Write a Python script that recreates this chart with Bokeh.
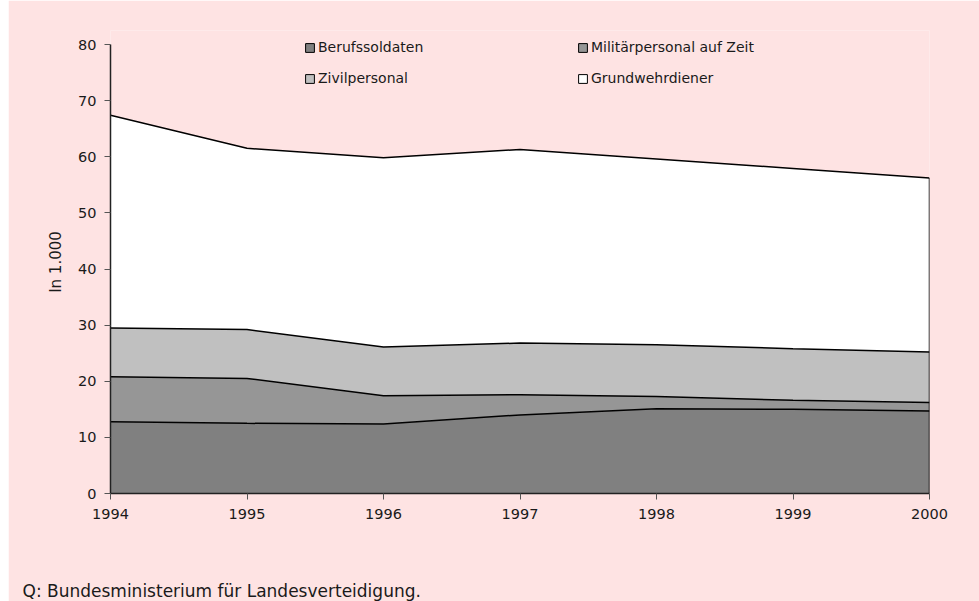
import numpy as np
from bokeh.plotting import figure
from bokeh.models import Legend, LegendItem, Title, FixedTicker, Range1d
from bokeh.embed import file_html
from bokeh.resources import INLINE

years = [1994, 1995, 1996, 1997, 1998, 1999, 2000]
berufssoldaten = [12.8, 12.5, 12.4, 14.0, 15.1, 15.0, 14.7]
militaer_auf_zeit = [8.0, 8.0, 5.0, 3.6, 2.2, 1.6, 1.5]
zivilpersonal = [8.7, 8.7, 8.7, 9.2, 9.2, 9.2, 9.0]
grundwehrdiener = [37.9, 32.3, 33.7, 34.5, 33.1, 32.1, 31.0]
series_names = ["Berufssoldaten", "Militärpersonal auf Zeit", "Zivilpersonal", "Grundwehrdiener"]
colors = ["#808080", "#969696", "#C0C0C0", "#FFFFFF"]
y_ticks = [0, 10, 20, 30, 40, 50, 60, 70, 80]
source_note = "Q: Bundesministerium für Landesverteidigung."

FONT = "DejaVu Sans"
BG = "#FEE3E3"
TXT = "#1a1a1a"

# frame extends 14px above the 80 tick so the legend is not clipped
Y_MAX_AXIS = 80
Y_MAX_FRAME = 80 + 14 / 449 * 80

p = figure(width=971, height=601, output_backend="svg", toolbar_location=None,
           x_range=Range1d(1994, 2000), y_range=Range1d(0, Y_MAX_FRAME),
           min_border_left=102, min_border_right=50, min_border_top=30, min_border_bottom=108)
p.margin = (0, 0, 0, 8)
p.background_fill_color = BG
p.border_fill_color = BG
p.outline_line_color = None
p.grid.visible = False

data = [berufssoldaten, militaer_auf_zeit, zivilpersonal, grundwehrdiener]
cum = np.cumsum(np.array(data), axis=0)
lower = np.zeros(len(years))
for i in range(4):
    p.varea(x=years, y1=lower, y2=cum[i], fill_color=colors[i])
    lower = cum[i]
for i in range(4):
    p.line(years, cum[i], line_color="black", line_width=1.5)
p.line([years[-1], years[-1]], [0, cum[-1][-1]], line_color="black", line_width=1.5)

# legend swatches (hidden renderers, used only for the legend)
swatches = []
for i in range(4):
    r = p.quad(left=years[:1], right=years[:1], top=[cum[i][0]], bottom=[cum[i][0]],
               fill_color=colors[i], line_color="black", line_width=1)
    r.visible = False
    swatches.append(r)
order = [0, 2, 1, 3]  # column-major fill -> rows: (0,1), (2,3)
items = [LegendItem(label=series_names[k], renderers=[swatches[k]]) for k in order]
leg = Legend(items=items, ncols=2, location=(194, 407), padding=0, margin=0,
             glyph_width=11, glyph_height=11, label_height=11, label_standoff=3,
             spacing=15, label_width=244,
             border_line_alpha=0, background_fill_alpha=0,
             label_text_font=FONT, label_text_font_size="14px", label_text_color=TXT)
p.add_layout(leg, "center")

for ax in (p.xaxis[0], p.yaxis[0]):
    ax.axis_line_color = "#222222"
    ax.axis_line_width = 1.5
    ax.major_tick_line_color = "#555555"
    ax.major_tick_in = 0
    ax.major_tick_out = 6
    ax.minor_tick_line_color = None
    ax.major_label_text_font = FONT
    ax.major_label_text_font_size = "14.5px"
    ax.major_label_text_color = TXT
p.xaxis.ticker = FixedTicker(ticks=years)
p.xaxis.major_label_standoff = 9
p.yaxis.ticker = FixedTicker(ticks=y_ticks)
p.yaxis.bounds = (0, Y_MAX_AXIS)
p.yaxis.major_label_standoff = 8
p.yaxis.axis_label = "In 1.000"
p.yaxis.axis_label_text_font = FONT
p.yaxis.axis_label_text_font_size = "15px"
p.yaxis.axis_label_text_font_style = "normal"
p.yaxis.axis_label_text_color = TXT
p.yaxis.axis_label_standoff = 10

# spacer panel between the axis and the source note
spacer = Title(text=" ", standoff=35, text_font=FONT, text_font_size="17px")
p.add_layout(spacer, "below")
note = Title(text=source_note, align="left", vertical_align="bottom", offset=-88, standoff=0,
             text_font=FONT, text_font_size="17px", text_font_style="normal", text_color=TXT)
p.add_layout(note, "below")

open("out.html", "w").write(file_html(p, INLINE))
